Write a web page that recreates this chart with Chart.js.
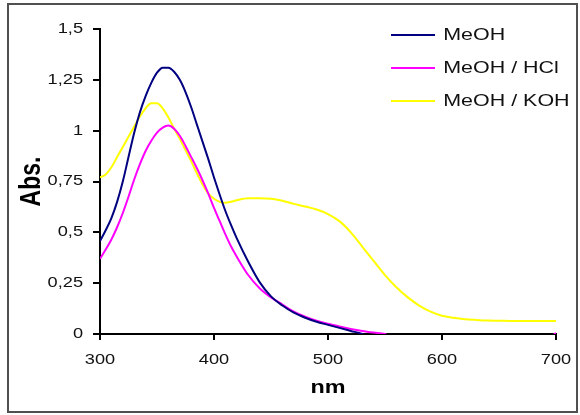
<!DOCTYPE html>
<html>
<head>
<meta charset="utf-8">
<script src="https://cdn.jsdelivr.net/npm/chart.js@4/dist/chart.umd.min.js"></script>
<style>
  html, body { margin: 0; padding: 0; background: #fff; }
  canvas { display: block; }
</style>
</head>
<body>
<canvas id="spectra" width="580" height="415"></canvas>
<script>
// Wavelength grid (nm): 5 nm steps across the main band, 10 nm steps beyond
const wavelengths = [
  300, 305, 310, 315, 320, 325, 330, 335, 340, 345, 350, 355, 360, 365, 370, 375, 380, 385, 390, 395, 400, 405, 410, 415, 420,
  430, 440, 450, 460, 470, 480, 490, 500, 510, 520, 530, 540, 550, 560, 570, 580, 590, 600, 610, 620, 630, 640, 650, 660, 670, 680, 690, 700
];

// Absorbance in methanol
const absMeOH = [
  0.457, 0.51, 0.57, 0.65, 0.75, 0.87, 0.99, 1.09, 1.17, 1.235, 1.285, 1.31, 1.31, 1.29, 1.25, 1.19, 1.115, 1.03, 0.945, 0.86, 0.77, 0.685, 0.605, 0.535, 0.47,
  0.355, 0.255, 0.185, 0.14, 0.105, 0.08, 0.06, 0.045, 0.03, 0.015, 0.0,
  -0.03, -0.03, -0.03, -0.03, -0.03, -0.03, -0.03, -0.03, -0.03, -0.03, -0.03, -0.03, -0.03, -0.03, -0.03, -0.03, -0.03
];

// Absorbance in acidified methanol
const absHCl = [
  0.37, 0.415, 0.465, 0.525, 0.595, 0.675, 0.76, 0.835, 0.90, 0.95, 0.99, 1.015, 1.025, 1.01, 0.975, 0.925, 0.87, 0.815, 0.755, 0.69, 0.62, 0.555, 0.49, 0.43, 0.38,
  0.29, 0.225, 0.18, 0.145, 0.11, 0.085, 0.065, 0.05, 0.037, 0.025, 0.015, 0.007, 0.0,
  -0.03, -0.03, -0.03, -0.03, -0.03, -0.03, -0.03, -0.03, -0.03, -0.03, -0.03, -0.03, -0.03, -0.03, 0.005
];

// Absorbance in basic methanol
const absKOH = [
  0.77, 0.785, 0.82, 0.87, 0.92, 0.97, 1.02, 1.07, 1.11, 1.135, 1.135, 1.11, 1.065, 1.01, 0.96, 0.905, 0.85, 0.79, 0.735, 0.69, 0.665, 0.65, 0.645, 0.65, 0.658,
  0.668, 0.668, 0.665, 0.655, 0.64, 0.627, 0.612, 0.59, 0.555, 0.50, 0.43, 0.36, 0.29, 0.23, 0.18, 0.14, 0.11, 0.09, 0.08, 0.073, 0.069, 0.066, 0.065,
  0.064, 0.064, 0.064, 0.064, 0.064
];

const seriesNames = ['MeOH', 'MeOH / HCl', 'MeOH / KOH'];
const seriesColors = ['#000080', '#ff00ff', '#ffff00'];
const yTickLabels = ['0', '0,25', '0,5', '0,75', '1', '1,25', '1,5'];

const FONT = "'Liberation Sans', Arial, sans-serif";
const TEXT_WIDEN = 1.3;

const canvas = document.getElementById('spectra');
const ctx = canvas.getContext('2d');

// Text in this figure is set horizontally widened; scale each string about its anchor
const plainFillText = ctx.fillText;
ctx.fillText = function (text, x, y) {
  const m = this.getTransform();
  const p = m.transformPoint(new DOMPoint(x, y));
  this.save();
  this.setTransform(new DOMMatrix().translate(p.x, p.y).scale(TEXT_WIDEN, 1).translate(-p.x, -p.y).multiply(m));
  plainFillText.call(this, text, x, y);
  this.restore();
};

const toPoints = (ys) => ys.map((v, i) => ({ x: wavelengths[i], y: v }));

// Legend sits in the upper right of the plot; its box is widened for the wide text
const legendPlacement = {
  id: 'legendPlacement',
  afterLayout(chart) {
    const lg = chart.legend;
    if (!lg) return;
    lg.left = 374.5; lg.top = 10.25;
    lg.right = 578; lg.bottom = lg.top + lg.height;
  }
};

// White page with a grey frame
const frame = {
  id: 'frame',
  beforeDraw(chart) {
    const c = chart.ctx;
    c.save();
    c.fillStyle = '#fff';
    c.fillRect(0, 0, chart.width, chart.height);
    c.restore();
  },
  afterDraw(chart) {
    const c = chart.ctx;
    c.save();
    c.strokeStyle = '#505050';
    c.lineWidth = 2;
    c.strokeRect(8, 4, 569, 408);
    c.restore();
  }
};

new Chart(ctx, {
  type: 'line',
  data: {
    datasets: [absMeOH, absHCl, absKOH].map((ys, i) => ({
      label: seriesNames[i],
      data: toPoints(ys),
      borderColor: seriesColors[i],
      backgroundColor: seriesColors[i],
      borderWidth: 2,
      pointRadius: 0,
      fill: false,
      cubicInterpolationMode: 'monotone'
    }))
  },
  options: {
    responsive: false,
    animation: false,
    devicePixelRatio: 1,
    layout: { padding: { left: 0, right: 24, top: 29, bottom: 16 } },
    plugins: {
      tooltip: { enabled: false },
      legend: {
        display: true,
        position: 'chartArea',
        align: 'start',
        labels: {
          usePointStyle: true,
          pointStyle: 'line',
          pointStyleWidth: 44,
          padding: 16.5,
          color: '#111',
          font: { family: FONT, size: 16.5 }
        }
      }
    },
    scales: {
      x: {
        type: 'linear',
        min: 300,
        max: 700,
        ticks: { stepSize: 100, padding: 12, maxRotation: 0, color: '#111', font: { family: FONT, size: 14 } },
        grid: { display: true, drawOnChartArea: false, drawTicks: true, tickLength: 6, color: '#000', lineWidth: 2 },
        border: { display: true, color: '#000', width: 2 },
        title: { display: true, text: 'nm', color: '#000', font: { family: FONT, size: 18, weight: 'bold' }, padding: { top: 0, bottom: 0 } },
        afterFit(scale) { scale.height = 65; }
      },
      y: {
        type: 'linear',
        min: 0,
        max: 1.5,
        ticks: {
          stepSize: 0.25,
          padding: 10,
          color: '#111',
          font: { family: FONT, size: 14 },
          callback: (v) => yTickLabels[Math.round(v / 0.25)]
        },
        grid: { display: true, drawOnChartArea: false, drawTicks: true, tickLength: 7, color: '#000', lineWidth: 2 },
        border: { display: true, color: '#000', width: 2 },
        title: { display: true, text: 'Abs.', color: '#000', font: { family: FONT, size: 23, weight: 'bold' }, padding: { top: 18, bottom: 0 } },
        afterFit(scale) { scale.width = 100; }
      }
    }
  },
  plugins: [legendPlacement, frame]
});
</script>
</body>
</html>
